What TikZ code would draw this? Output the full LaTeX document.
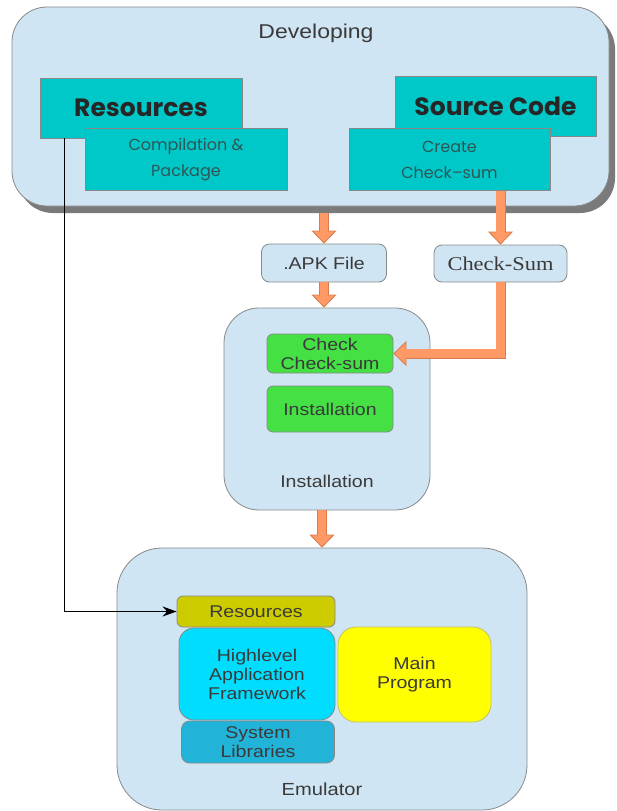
\documentclass[tikz,border=0pt]{standalone}
\usepackage{fontspec}
\setmainfont{Liberation Sans}[FakeStretch=1.15]
\newfontfamily\serifck{Liberation Serif}[FakeStretch=1.15]
\newfontfamily\hand{Poppins}
\usetikzlibrary{arrows.meta,shadows,calc}
\definecolor{pale}{HTML}{D0E5F3}
\definecolor{edge}{HTML}{888888}
\definecolor{tealbox}{HTML}{00C8C8}
\definecolor{greenbox}{HTML}{44E044}
\definecolor{olivebox}{HTML}{CCCC00}
\definecolor{cyanbox}{HTML}{00DDFF}
\definecolor{yellowbox}{HTML}{FFFF00}
\definecolor{sysbox}{HTML}{22B4D8}
\definecolor{orFill}{HTML}{FF9966}
\definecolor{orEdge}{HTML}{D87A4A}
\definecolor{shadowgray}{HTML}{7A7A7A}
\definecolor{txt}{HTML}{3A3A3A}
\definecolor{handtxt}{HTML}{2F5656}
\tikzset{
  box/.style={draw=edge, line width=0.8pt, inner sep=0pt, align=center, text=txt},
  palebox/.style={box, fill=pale},
  tealrect/.style={box, fill=tealbox},
  lbl/.style={inner sep=0pt, text=txt, align=center},
  body/.style={font=\fontsize{17}{19}\selectfont},
  fatouter/.style={line width=10pt, draw=orEdge, line join=miter,
    -{Triangle[length=13pt,width=25pt,fill=orFill,line width=0.8pt]}},
  fatinner/.style={line width=8.4pt, draw=orFill, line join=miter, shorten >=12pt},
}
\begin{document}
\begin{tikzpicture}[x=1pt,y=-1pt]
\useasboundingbox (0,0) rectangle (616,811);
% Developing
\node[palebox, rounded corners=35pt, minimum width=597pt, minimum height=199pt,
  drop shadow={shadow xshift=6pt, shadow yshift=-7pt, fill=shadowgray, opacity=1}] (dev) at (310.5,106.5) {};
\node[lbl, font=\fontsize{20}{22}\selectfont] (devl) at (316,33) {Developing};
\node[tealrect, minimum width=202pt, minimum height=60pt, text=black!85,
  font=\hand\bfseries\fontsize{25}{27}\selectfont] (res) at (141,108) {Resources};
\node[tealrect, minimum width=202pt, minimum height=62pt, text=handtxt,
  font=\hand\fontsize{16}{26}\selectfont] (comp) at (186,159.5) {Compilation \&\\Package};
\node[tealrect, minimum width=201pt, minimum height=60pt, text=black!85,
  font=\hand\bfseries\fontsize{25}{27}\selectfont] (src) at (495.5,106) {Source Code};
\node[tealrect, minimum width=201pt, minimum height=62pt, text=handtxt,
  font=\hand\fontsize{16}{26}\selectfont] (cre) at (449.5,159.5) {Create\\Check–sum};
% middle
\node[palebox, body, rounded corners=8pt, minimum width=125pt, minimum height=38pt] (apk) at (324,263) {.APK File};
\node[palebox, rounded corners=8pt, minimum width=133pt, minimum height=37pt,
  font=\serifck\fontsize{19.5}{21}\selectfont] (cs) at (500.5,263.5) {Check-Sum};
\node[palebox, rounded corners=35pt, minimum width=206pt, minimum height=202pt] (inst) at (327,409) {};
\node[lbl, body] (instl) at (327,481) {Installation};
\node[box, body, fill=greenbox, rounded corners=6pt, minimum width=126pt, minimum height=39pt] (chk) at (330,353.5) {Check\\Check-sum};
\node[box, body, fill=greenbox, rounded corners=6pt, minimum width=126pt, minimum height=46pt] (ins2) at (330,409) {Installation};
% Emulator
\node[palebox, rounded corners=45pt, minimum width=410pt, minimum height=262pt] (emu) at (322,679) {};
\node[lbl, font=\fontsize{17.5}{19}\selectfont] (emul) at (322,789) {Emulator};
\node[box, body, fill=olivebox, rounded corners=6pt, minimum width=158pt, minimum height=31pt] (rese) at (256,611.5) {Resources};
\node[box, body, fill=cyanbox, rounded corners=15pt, minimum width=156pt, minimum height=92pt] (hl) at (257,674) {Highlevel\\Application\\Framework};
\node[box, body, draw=yellow!50!gray, fill=yellowbox, rounded corners=18pt, minimum width=153pt, minimum height=95pt] (main) at (414.5,674.5) {Main\\Program};
\node[box, body, fill=sysbox, rounded corners=8pt, minimum width=153pt, minimum height=42pt] (sys) at (258,742) {System\\Libraries};
% orange arrows
\draw[fatouter] ([yshift=-7pt]apk.north |- dev.south) -- (apk.north);
\draw[fatinner] ([yshift=-7pt]apk.north |- dev.south) -- (apk.north);
\draw[fatouter] (cs.north |- cre.south) -- (cs.north);
\draw[fatinner] (cs.north |- cre.south) -- (cs.north);
\draw[fatouter] (apk.south) -- (apk.south |- inst.north);
\draw[fatinner] (apk.south) -- (apk.south |- inst.north);
\draw[fatouter] (cs.south) |- (chk.east);
\draw[fatinner] (cs.south) |- (chk.east);
\draw[fatouter] (emu.north |- inst.south) -- (emu.north);
\draw[fatinner] (emu.north |- inst.south) -- (emu.north);
% black connector
\draw[line width=1.5pt, -{Stealth[length=14pt,width=10pt]}] ([xshift=25pt]res.south west) |- (rese.west);
\end{tikzpicture}
\end{document}
